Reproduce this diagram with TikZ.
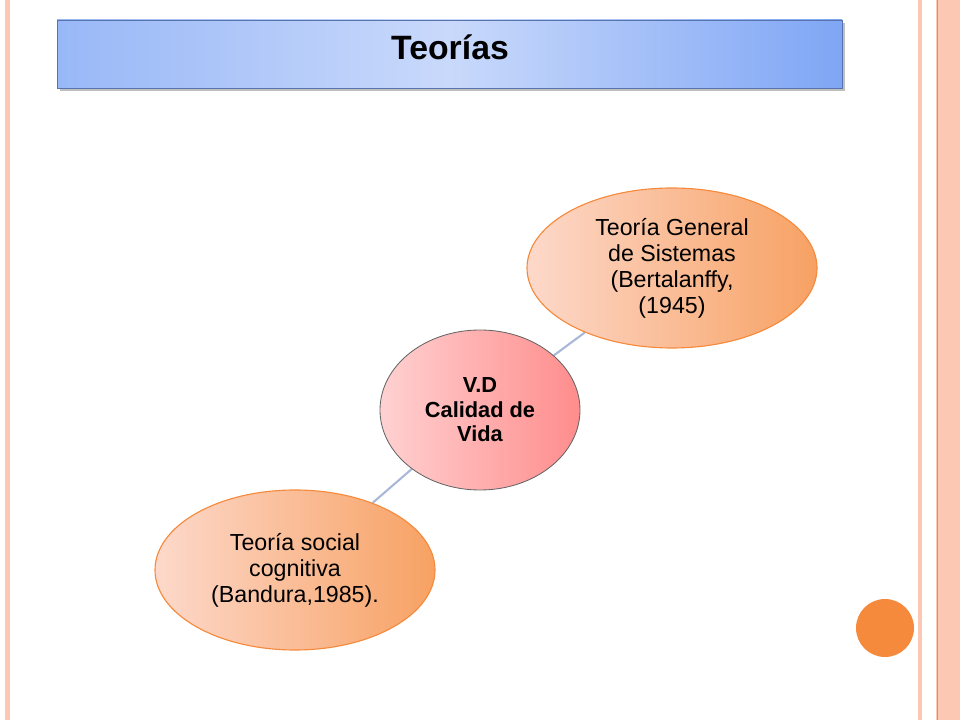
\documentclass[tikz,border=0pt]{standalone}
\usepackage{fontspec}
\setmainfont{Liberation Sans}
\usetikzlibrary{shapes.geometric,backgrounds}
\definecolor{salmon}{HTML}{FCC8B4}
\definecolor{orangeline}{HTML}{F58A3C}
\definecolor{titleblue}{HTML}{7FA6F5}
\definecolor{titlepale}{HTML}{C9D9FB}
\definecolor{edgeblue}{HTML}{A9B8D8}
\newlength{\px}\setlength{\px}{0.025cm}
\tikzset{
  theory/.style={ellipse,draw=orangeline,line width=0.8pt,minimum width=290\px,minimum height=160\px,
    left color=salmon!70!white,right color=orangeline!80!white,align=center,font=\fontsize{16.5}{18.5}\selectfont,inner sep=0pt},
  core/.style={ellipse,draw=black!60,line width=0.6pt,minimum width=200\px,minimum height=160\px,
    left color=red!18!white,right color=red!45!white,align=center,font=\bfseries\fontsize{15.5}{17.5}\selectfont,inner sep=0pt},
  link/.style={draw=edgeblue,line width=1.5pt}
}
\begin{document}
\begin{tikzpicture}[x=0.025cm,y=-0.025cm]
  \useasboundingbox (0,0) rectangle (960,720);
  % page border stripes
  \fill[salmon] (5,0) rectangle (10,720);
  \fill[salmon] (918,0) rectangle (922,720);
  \fill[salmon] (936,0) rectangle (960,720);
  \draw[orangeline,line width=0.6pt] (937,0) -- (937,720);
  % title bar
  \fill[black!25] (60,23) rectangle (845,91);
  \shade[left color=titleblue!80!white,right color=titleblue,middle color=titlepale] (57,20) rectangle (842,88);
  \draw[titleblue!70!black,line width=0.5pt] (57,20) rectangle (842,88);
  \node[font=\bfseries\fontsize{24}{26}\selectfont] (title) at (450,47) {Teorías};
  % ellipses
  \node[core] (vd) at (480,410) {V.D\\Calidad de\\Vida};
  \node[theory] (tgs) at (672,268) {Teoría General\\de Sistemas\\(Bertalanffy,\\(1945)};
  \node[theory,minimum width=280\px] (tsc) at (295,570) {Teoría social\\cognitiva\\(Bandura,1985).};
  \begin{scope}[on background layer]
    \path[link] (vd) -- (tgs);
    \path[link] (vd) -- (tsc);
  \end{scope}
  % corner dot
  \node[circle,fill=orangeline,minimum size=58\px,inner sep=0pt] (dot) at (885,628) {};
\end{tikzpicture}
\end{document}
